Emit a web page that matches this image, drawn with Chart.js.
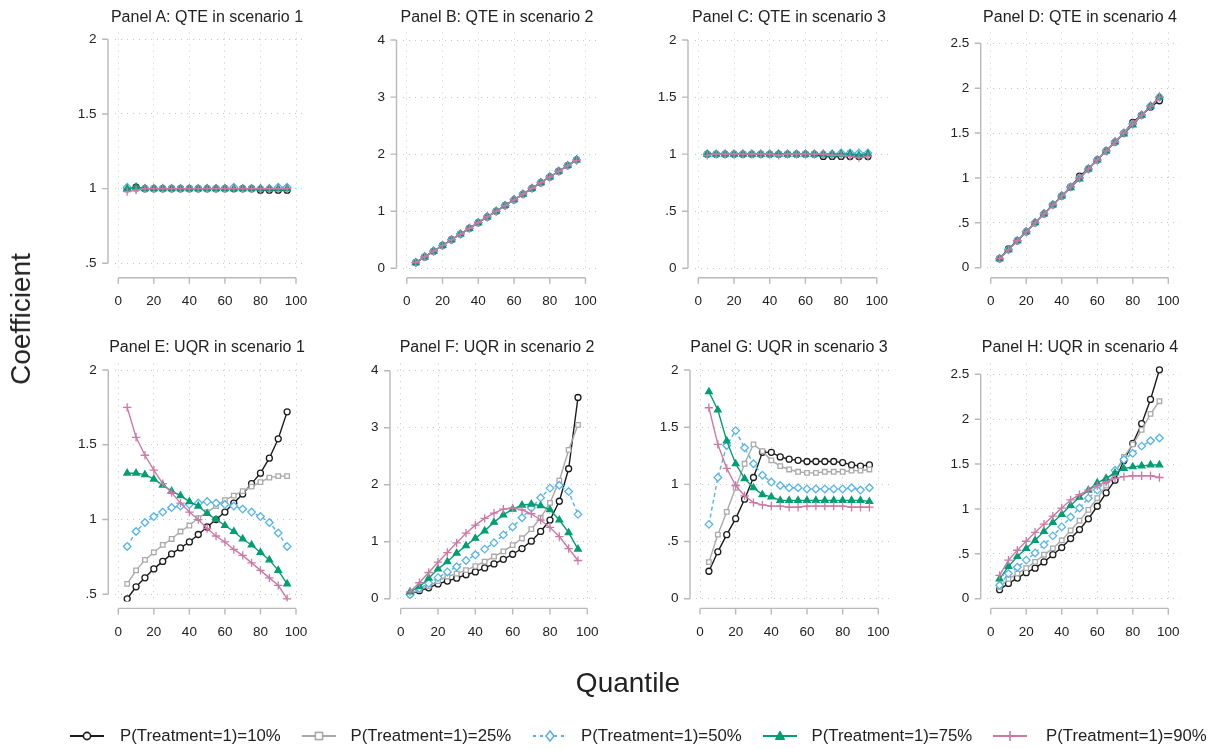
<!DOCTYPE html>
<html><head><meta charset="utf-8">
<script src="https://cdn.jsdelivr.net/npm/chart.js@4.4.1/dist/chart.umd.min.js"></script>
<style>
html,body{margin:0;padding:0;background:#fff;width:1228px;height:749px;overflow:hidden;font-family:"Liberation Sans",Arial,sans-serif;color:#222}
canvas{position:absolute;left:0;top:0}
.t{position:absolute;white-space:nowrap;font-size:16px;transform:translate(-50%,-50%);line-height:1}
.ax{position:absolute;white-space:nowrap;font-size:28px;line-height:1;transform:translate(-50%,-50%)}
.lg{position:absolute;top:728px;height:16px}
.lgt{position:absolute;top:736px;font-size:16.8px;line-height:1;transform:translateY(-50%);white-space:nowrap}
</style></head><body>
<script>
// ---------------- data ----------------
const quantiles = [5,10,15,20,25,30,35,40,45,50,55,60,65,70,75,80,85,90,95];
const seriesLabels = ['P(Treatment=1)=10%','P(Treatment=1)=25%','P(Treatment=1)=50%','P(Treatment=1)=75%','P(Treatment=1)=90%'];
const panelTitles = ['Panel A: QTE in scenario 1','Panel B: QTE in scenario 2','Panel C: QTE in scenario 3','Panel D: QTE in scenario 4',
                     'Panel E: UQR in scenario 1','Panel F: UQR in scenario 2','Panel G: UQR in scenario 3','Panel H: UQR in scenario 4'];
const xTicks = [0,20,40,60,80,100];
const yTicks1 = [0.5,1,1.5,2];
const yTicks2 = [0,1,2,3,4];
const yTicks3 = [0,0.5,1,1.5,2];
const yTicks4 = [0,0.5,1,1.5,2,2.5];

// Panel A: QTE scenario 1
const A_p10 = [1.00,1.01,1.00,1.00,1.00,1.00,1.00,1.00,1.00,1.00,1.00,1.00,1.00,1.00,1.00,0.99,0.99,0.99,0.99];
const A_p25 = [1.00,1.00,1.00,1.00,1.00,1.00,1.00,1.00,1.00,1.00,1.00,1.00,1.00,1.00,1.00,1.00,1.00,1.00,1.00];
const A_p50 = [1.01,1.00,1.00,1.00,1.00,1.00,1.00,1.00,1.00,1.00,1.00,1.00,1.01,1.00,1.00,1.00,1.00,1.01,1.01];
const A_p75 = [1.00,1.01,1.00,1.00,1.00,1.00,1.00,1.00,1.00,1.00,1.00,1.00,1.00,1.00,1.00,1.00,1.00,1.00,1.00];
const A_p90 = [0.98,0.99,1.00,1.00,1.00,1.00,1.00,1.00,1.00,1.00,1.00,1.00,1.00,1.00,1.00,1.00,1.00,1.00,1.00];
// Panel B: QTE scenario 2
const B_p10 = [0.10,0.20,0.30,0.40,0.50,0.60,0.70,0.80,0.90,1.00,1.10,1.20,1.30,1.40,1.50,1.60,1.70,1.80,1.90];
const B_p25 = [0.10,0.20,0.30,0.40,0.50,0.60,0.70,0.80,0.90,1.00,1.10,1.20,1.30,1.40,1.50,1.60,1.70,1.80,1.90];
const B_p50 = [0.10,0.20,0.30,0.40,0.50,0.60,0.70,0.80,0.90,1.00,1.10,1.20,1.30,1.40,1.50,1.60,1.70,1.80,1.90];
const B_p75 = [0.10,0.20,0.30,0.40,0.50,0.60,0.70,0.80,0.90,1.00,1.10,1.20,1.30,1.40,1.50,1.60,1.70,1.80,1.90];
const B_p90 = [0.10,0.20,0.30,0.40,0.50,0.60,0.70,0.80,0.90,1.00,1.10,1.20,1.30,1.40,1.50,1.60,1.70,1.80,1.89];
// Panel C: QTE scenario 3
const C_p10 = [1.00,1.00,1.00,1.00,1.00,1.00,1.00,1.00,1.00,1.00,1.00,1.00,1.00,0.98,0.98,0.98,0.98,0.98,0.98];
const C_p25 = [1.00,1.00,1.00,1.00,1.00,1.00,1.00,1.00,1.00,1.00,1.00,1.00,1.00,1.00,1.00,1.00,1.01,1.00,1.00];
const C_p50 = [1.00,1.00,1.00,1.00,1.00,1.00,1.00,1.00,1.00,1.00,1.00,1.00,1.00,1.00,1.00,1.01,1.01,1.01,1.01];
const C_p75 = [1.00,1.00,1.00,1.00,1.00,1.00,1.00,1.00,1.00,1.00,1.00,1.00,1.00,1.00,1.00,1.00,1.00,0.99,1.00];
const C_p90 = [0.99,1.00,1.00,1.00,1.00,1.00,1.00,1.00,0.99,1.00,1.00,1.00,1.00,1.00,0.99,0.99,0.98,0.97,0.98];
// Panel D: QTE scenario 4
const D_p10 = [0.10,0.21,0.30,0.40,0.50,0.60,0.70,0.80,0.90,1.02,1.10,1.20,1.30,1.40,1.50,1.62,1.70,1.79,1.86];
const D_p25 = [0.10,0.20,0.30,0.40,0.50,0.60,0.70,0.80,0.90,1.00,1.10,1.20,1.30,1.40,1.50,1.60,1.70,1.80,1.90];
const D_p50 = [0.10,0.20,0.30,0.40,0.50,0.60,0.70,0.80,0.90,1.00,1.10,1.20,1.30,1.40,1.50,1.60,1.70,1.80,1.90];
const D_p75 = [0.10,0.20,0.30,0.40,0.50,0.60,0.70,0.80,0.89,0.99,1.10,1.20,1.30,1.40,1.49,1.59,1.70,1.80,1.90];
const D_p90 = [0.10,0.20,0.30,0.40,0.50,0.60,0.70,0.80,0.90,1.00,1.10,1.20,1.30,1.40,1.50,1.60,1.70,1.80,1.90];
// Panel E: UQR scenario 1
const E_p10 = [0.47,0.55,0.61,0.67,0.72,0.77,0.81,0.85,0.90,0.95,1.00,1.05,1.11,1.17,1.24,1.31,1.41,1.54,1.72];
const E_p25 = [0.57,0.66,0.73,0.78,0.83,0.87,0.92,0.96,1.01,1.05,1.09,1.13,1.16,1.19,1.22,1.25,1.28,1.29,1.29];
const E_p50 = [0.82,0.92,0.98,1.02,1.05,1.08,1.09,1.10,1.11,1.12,1.11,1.10,1.09,1.07,1.05,1.02,0.98,0.91,0.82];
const E_p75 = [1.31,1.31,1.30,1.27,1.23,1.19,1.16,1.12,1.09,1.04,1.00,0.96,0.92,0.87,0.83,0.78,0.73,0.66,0.57];
const E_p90 = [1.75,1.55,1.43,1.33,1.24,1.18,1.11,1.05,1.00,0.94,0.89,0.85,0.80,0.76,0.71,0.66,0.61,0.56,0.47];
// Panel F: UQR scenario 2
const F_p10 = [0.08,0.14,0.19,0.26,0.31,0.36,0.42,0.47,0.54,0.61,0.69,0.78,0.88,1.01,1.18,1.38,1.71,2.28,3.53];
const F_p25 = [0.08,0.16,0.22,0.31,0.39,0.44,0.50,0.57,0.65,0.74,0.83,0.94,1.06,1.22,1.42,1.68,2.07,2.61,3.05];
const F_p50 = [0.07,0.18,0.27,0.37,0.47,0.56,0.67,0.77,0.87,0.98,1.12,1.26,1.42,1.59,1.77,1.94,1.99,1.88,1.48];
const F_p75 = [0.12,0.21,0.36,0.52,0.65,0.80,0.93,1.06,1.19,1.34,1.47,1.57,1.64,1.66,1.63,1.56,1.38,1.16,0.87];
const F_p90 = [0.12,0.28,0.46,0.64,0.81,0.98,1.15,1.29,1.41,1.50,1.57,1.59,1.56,1.49,1.38,1.25,1.09,0.88,0.67];
// Panel G: UQR scenario 3
const G_p10 = [0.24,0.41,0.56,0.70,0.87,1.06,1.28,1.28,1.24,1.22,1.21,1.20,1.20,1.20,1.20,1.19,1.17,1.16,1.17];
const G_p25 = [0.32,0.56,0.76,0.97,1.18,1.35,1.29,1.21,1.16,1.13,1.11,1.10,1.10,1.11,1.11,1.11,1.12,1.12,1.13];
const G_p50 = [0.65,1.06,1.34,1.47,1.32,1.18,1.08,1.02,0.99,0.97,0.97,0.96,0.96,0.96,0.96,0.96,0.97,0.95,0.97];
const G_p75 = [1.81,1.65,1.38,1.18,1.05,0.97,0.91,0.89,0.86,0.86,0.86,0.86,0.86,0.86,0.86,0.86,0.86,0.86,0.85];
const G_p90 = [1.67,1.35,1.14,0.99,0.90,0.84,0.82,0.81,0.81,0.80,0.80,0.81,0.81,0.81,0.81,0.81,0.80,0.80,0.80];
// Panel H: UQR scenario 4
const H_p10 = [0.10,0.17,0.23,0.29,0.34,0.41,0.49,0.57,0.67,0.77,0.89,1.03,1.18,1.32,1.54,1.73,1.95,2.22,2.55];
const H_p25 = [0.13,0.22,0.28,0.34,0.41,0.49,0.56,0.65,0.76,0.87,0.99,1.12,1.26,1.40,1.58,1.72,1.88,2.06,2.20];
const H_p50 = [0.15,0.28,0.35,0.43,0.51,0.60,0.70,0.80,0.91,1.01,1.12,1.21,1.32,1.43,1.55,1.62,1.70,1.76,1.79];
const H_p75 = [0.22,0.36,0.47,0.56,0.65,0.75,0.85,0.94,1.04,1.13,1.21,1.29,1.34,1.40,1.45,1.47,1.48,1.49,1.49];
const H_p90 = [0.26,0.43,0.54,0.64,0.74,0.83,0.92,1.01,1.10,1.16,1.21,1.26,1.30,1.34,1.36,1.37,1.37,1.37,1.35];

// ---------------- styles & layout ----------------
const seriesStyles = [
  {color:'#1b1b1b', point:'circle',  radius:3.0, fill:'#ffffff', dash:[]},
  {color:'#a9a9a9', point:'rect',    radius:3.2, fill:'#ffffff', dash:[]},
  {color:'#56b4e9', point:'rectRot', radius:3.8, fill:'#ffffff', dash:[4,3]},
  {color:'#009e73', point:'triangle',radius:3.8, fill:'#009e73', dash:[]},
  {color:'#cc79a7', point:'cross',   radius:4.2, fill:'#cc79a7', dash:[]}
];
const rows = [
  {plotTop:32.5, plotBottom:271, axisY:277.7},
  {plotTop:363.3, plotBottom:601.5, axisY:608.4}
];
const panels = [
  {title:0, row:0, yTicks:yTicks1, series:[A_p10,A_p25,A_p50,A_p75,A_p90], axisX:108,   x0:118.3, x100:296,   yTopPx:39.3,  yBotPx:263.3, tx:207},
  {title:1, row:0, yTicks:yTicks2, series:[B_p10,B_p25,B_p50,B_p75,B_p90], axisX:396.5, x0:406.8, x100:585.5, yTopPx:40,    yBotPx:268.3, tx:497},
  {title:2, row:0, yTicks:yTicks3, series:[C_p10,C_p25,C_p50,C_p75,C_p90], axisX:688,   x0:698.3, x100:876.8, yTopPx:40,    yBotPx:268.3, tx:789},
  {title:3, row:0, yTicks:yTicks4, series:[D_p10,D_p25,D_p50,D_p75,D_p90], axisX:980.7, x0:990.7, x100:1168.3,yTopPx:43.3,  yBotPx:267.7, tx:1080},
  {title:4, row:1, yTicks:yTicks1, series:[E_p10,E_p25,E_p50,E_p75,E_p90], axisX:108.3, x0:118.3, x100:296,   yTopPx:370,   yBotPx:594.3, tx:207},
  {title:5, row:1, yTicks:yTicks2, series:[F_p10,F_p25,F_p50,F_p75,F_p90], axisX:390,   x0:400.7, x100:587.3, yTopPx:370.7, yBotPx:598.7, tx:497},
  {title:6, row:1, yTicks:yTicks3, series:[G_p10,G_p25,G_p50,G_p75,G_p90], axisX:690,   x0:700,   x100:878.3, yTopPx:370,   yBotPx:598.7, tx:789},
  {title:7, row:1, yTicks:yTicks4, series:[H_p10,H_p25,H_p50,H_p75,H_p90], axisX:980.7, x0:990.7, x100:1168.3,yTopPx:374.3, yBotPx:598.7, tx:1080}
];
const W = 1228, H = 749;
const TICK_FONT = {family:'"Liberation Sans", Arial, sans-serif', size:13.5};
const AXIS_COLOR = '#b9b9b9';

const stataAxes = {
  id:'stataAxes',
  afterDraw(chart, args, opts) {
    const ctx = chart.ctx, xs = chart.scales.x, ys = chart.scales.y;
    const yt = opts.yTicks;
    ctx.save();
    ctx.strokeStyle = AXIS_COLOR; ctx.lineWidth = 1.4; ctx.lineCap = 'butt';
    const yA = ys.getPixelForValue(yt[0]), yB = ys.getPixelForValue(yt[yt.length-1]);
    ctx.beginPath();
    ctx.moveTo(opts.axisX, yA); ctx.lineTo(opts.axisX, yB);
    yt.forEach(v => { const p = ys.getPixelForValue(v); ctx.moveTo(opts.axisX - 6, p); ctx.lineTo(opts.axisX, p); });
    const xA = xs.getPixelForValue(xTicks[0]), xB = xs.getPixelForValue(xTicks[xTicks.length-1]);
    ctx.moveTo(xA, opts.axisY); ctx.lineTo(xB, opts.axisY);
    xTicks.forEach(v => { const p = xs.getPixelForValue(v); ctx.moveTo(p, opts.axisY); ctx.lineTo(p, opts.axisY + 6); });
    ctx.stroke();
    ctx.restore();
  }
};

function fmtY(v){ if (v === 0) return '0'; return String(v).replace(/^0\./, '.'); }

panels.forEach(p => {
  const r = rows[p.row];
  const cv = document.createElement('canvas');
  cv.width = W; cv.height = H;
  document.body.appendChild(cv);
  const plotLeft = p.x0 - 3.8, plotRight = p.x100 + 11;
  const xpu = (p.x100 - p.x0) / 100;
  const xMin = -(p.x0 - plotLeft) / xpu, xMax = 100 + (plotRight - p.x100) / xpu;
  const yLo = p.yTicks[0], yHi = p.yTicks[p.yTicks.length-1];
  const ypu = (p.yBotPx - p.yTopPx) / (yHi - yLo);
  const yMax = yHi + (p.yTopPx - r.plotTop) / ypu, yMin = yLo - (r.plotBottom - p.yBotPx) / ypu;
  const lineH = TICK_FONT.size * 1.2;
  const datasets = p.series.map((vals, i) => {
    const s = seriesStyles[i];
    return {
      label: seriesLabels[i],
      data: quantiles.map((q, k) => ({x:q, y:vals[k]})),
      borderColor: s.color, borderWidth: 1.4, borderDash: s.dash,
      pointStyle: s.point, pointRadius: s.radius, pointBorderWidth: 1.3,
      pointBackgroundColor: s.fill, pointBorderColor: s.color,
      tension: 0, fill: false, order: 4 - i
    };
  });
  new Chart(cv, {
    type: 'line',
    data: {datasets},
    options: {
      responsive: false, animation: false, events: [],
      layout: {padding: {left:0, top:r.plotTop, right:W - plotRight, bottom:0}},
      plugins: {legend:{display:false}, tooltip:{enabled:false},
        stataAxes: {axisX:p.axisX, axisY:r.axisY, yTicks:p.yTicks}},
      scales: {
        x: {type:'linear', min:xMin, max:xMax,
          afterFit: s => { s.height = H - r.plotBottom; },
          afterBuildTicks: s => { s.ticks = xTicks.map(v => ({value:v})); },
          ticks: {font:TICK_FONT, color:'#222', padding:(r.axisY + 24) - r.plotBottom - lineH/2, maxRotation:0, autoSkip:false,
                  callback: v => String(v)},
          grid: {color:'#c4c4c4', lineWidth:1, drawTicks:false},
          border: {display:false, dash:[1,5]}},
        y: {type:'linear', min:yMin, max:yMax,
          afterFit: s => { s.width = plotLeft; },
          afterBuildTicks: s => { s.ticks = p.yTicks.map(v => ({value:v})); },
          ticks: {font:TICK_FONT, color:'#222', padding: plotLeft - (p.axisX - 11.5), autoSkip:false, callback: v => fmtY(v)},
          grid: {color:'#c4c4c4', lineWidth:1, drawTicks:false},
          border: {display:false, dash:[1,5]}}
      }
    },
    plugins: [stataAxes]
  });
  const t = document.createElement('div');
  t.className = 't';
  t.textContent = panelTitles[p.title];
  t.style.left = p.tx + 'px';
  t.style.top = (p.row === 0 ? 17 : 347) + 'px';
  document.body.appendChild(t);
});

// axis titles
const yt = document.createElement('div');
yt.className = 'ax'; yt.textContent = 'Coefficient';
yt.style.left = '21px'; yt.style.top = '319px';
yt.style.transform = 'translate(-50%,-50%) rotate(-90deg)';
document.body.appendChild(yt);
const xt = document.createElement('div');
xt.className = 'ax'; xt.textContent = 'Quantile';
xt.style.left = '628px'; xt.style.top = '683px';
document.body.appendChild(xt);

// legend
const legendPos = [[70,120],[301.5,350.5],[533,581],[763,811.5],[993,1046]];
function markerSvg(i){
  const s = seriesStyles[i], c = s.color, cx = 17, cy = 8;
  let line = `<line x1="0" y1="${cy}" x2="34" y2="${cy}" stroke="${c}" stroke-width="2"${s.dash.length ? ' stroke-dasharray="3,4"' : ''}/>`;
  let m = '';
  if (s.point === 'circle') m = `<circle cx="${cx}" cy="${cy}" r="3.6" fill="#fff" stroke="${c}" stroke-width="1.6"/>`;
  else if (s.point === 'rect') m = `<rect x="${cx-3.6}" y="${cy-3.6}" width="7.2" height="7.2" fill="#fff" stroke="${c}" stroke-width="1.6"/>`;
  else if (s.point === 'rectRot') m = `<polygon points="${cx},${cy-5} ${cx+4},${cy} ${cx},${cy+5} ${cx-4},${cy}" fill="#fff" stroke="${c}" stroke-width="1.6"/>`;
  else if (s.point === 'triangle') m = `<polygon points="${cx},${cy-5} ${cx+4.6},${cy+3.5} ${cx-4.6},${cy+3.5}" fill="${c}" stroke="${c}" stroke-width="1"/>`;
  else m = `<line x1="${cx}" y1="${cy-5}" x2="${cx}" y2="${cy+5}" stroke="${c}" stroke-width="1.6"/><line x1="${cx-5}" y1="${cy}" x2="${cx+5}" y2="${cy}" stroke="${c}" stroke-width="1.6"/>`;
  return `<svg width="34" height="16" xmlns="http://www.w3.org/2000/svg">${line}${m}</svg>`;
}
legendPos.forEach((pos, i) => {
  const ic = document.createElement('div');
  ic.className = 'lg'; ic.style.left = pos[0] + 'px';
  ic.innerHTML = markerSvg(i);
  document.body.appendChild(ic);
  const tx = document.createElement('div');
  tx.className = 'lgt'; tx.style.left = pos[1] + 'px';
  tx.textContent = seriesLabels[i];
  document.body.appendChild(tx);
});
</script>
</body></html>
